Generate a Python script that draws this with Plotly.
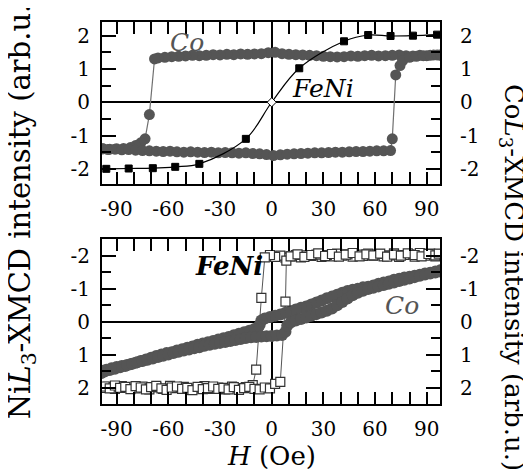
import plotly.graph_objects as go

# ---------------- data ----------------
# Top panel: Co L3 XMCD loop (gray circles), loop order
co_top_H = [98, 94, 90, 86, 82, 78, 74, 70, 66, 62, 58, 54, 50, 46, 42, 38, 34, 30, 26, 22, 18, 14, 10, 6, 2,
            -2, -6, -10, -14, -18, -22, -26, -30, -34, -38, -42, -46, -50, -54, -58, -62, -66,
            -68, -71, -73.5, -76, -79, -82, -86, -90, -94, -98,
            -98, -95, -91, -87, -83, -79, -75, -71, -67, -63, -59, -55, -51, -47, -43, -39, -35, -31, -27, -23,
            -19, -15, -11, -7, -3, 1, 5, 9, 13, 17, 21, 25, 29, 33, 37, 41, 45, 49, 53, 57, 61, 65, 69,
            70, 72, 74.5, 76, 80, 84, 88, 92, 96, 98]
co_top_M = [1.41, 1.42, 1.40, 1.41, 1.39, 1.40, 1.42, 1.41, 1.40, 1.39, 1.41, 1.40, 1.38, 1.39, 1.37, 1.36, 1.37,
            1.38, 1.40, 1.41, 1.42, 1.43, 1.44, 1.46, 1.50,
            1.49, 1.46, 1.45, 1.44, 1.45, 1.43, 1.44, 1.42, 1.43, 1.41, 1.40, 1.41, 1.39, 1.38, 1.37, 1.35, 1.33,
            1.30, -0.37, -1.10, -1.22, -1.30, -1.36, -1.39, -1.40, -1.41, -1.40,
            -1.40, -1.42, -1.41, -1.43, -1.42, -1.44, -1.45, -1.46, -1.47, -1.48, -1.47, -1.49, -1.50, -1.49, -1.50,
            -1.51, -1.50, -1.52, -1.51, -1.52,
            -1.53, -1.52, -1.54, -1.55, -1.57, -1.60, -1.58, -1.56, -1.55, -1.54, -1.53, -1.52, -1.52, -1.51, -1.50,
            -1.50, -1.49, -1.48, -1.48, -1.47, -1.46, -1.46, -1.45,
            -1.10, 0.82, 1.10, 1.25, 1.35, 1.38, 1.40, 1.41, 1.42, 1.42]

# Top panel: FeNi (Ni L3) curve
fe_top_H = [-96, -83, -69, -56, -42, -15, 0, 16, 42, 56, 69, 82, 96]
fe_top_M = [-2.00, -1.99, -1.98, -1.94, -1.85, -1.10, 0.0, 1.02, 1.83, 2.02, 1.99, 2.00, 2.03]

# Bottom panel: FeNi (Ni L3) square loop (open squares), loop order
fe_bot_H = [98, 95, 92, 89, 86, 83, 80, 77, 74, 71, 68, 65, 62, 59, 56, 53, 50, 47, 44, 41, 38, 35, 32, 29, 26,
            23, 20, 17, 14, 11, 8, 5, 2, -1, -4,
            -6, -9,
            -11, -15, -19, -23, -27, -31, -35, -39, -43, -47, -51, -55, -59, -63, -67, -71, -75, -79, -83, -87,
            -91, -95, -98,
            -97, -94, -91, -88, -85, -82, -79, -76, -73, -70, -67, -64, -61, -58, -55, -52, -49, -46, -43, -40,
            -37, -34, -31, -28, -25, -22, -19, -16, -13, -10, -7, -4, -1, 2,
            5, 8, 8.5,
            11, 15, 19, 23, 27, 31, 35, 39, 43, 47, 51, 55, 59, 63, 67, 71, 75, 79, 83, 87, 91, 95, 97]
fe_bot_M = [-2.05, -1.98, -2.06, -2.00, -2.08, -1.97, -2.04, -2.02, -1.96, -2.07, -2.01, -1.98, -2.05, -2.00,
            -2.06, -1.99, -2.03, -1.97, -2.04, -2.00, -2.06, -1.98, -2.02, -1.96, -2.03,
            -1.99, -2.01, -1.95, -2.02, -1.98, -1.94, -2.00, -1.96, -2.02, -1.95,
            -0.72, 1.45,
            1.92, 1.98, 2.04, 1.96, 2.05, 1.99, 2.03, 1.95, 2.02, 2.06, 1.97, 2.01, 1.94, 2.03, 1.98, 2.05, 1.96,
            2.02, 1.99, 1.95, 2.03, 1.97, 2.00,
            1.96, 2.02, 1.93, 2.00, 1.97, 2.04, 1.95, 1.99, 2.05, 1.98, 1.94, 2.02, 2.06, 1.99, 1.96, 2.03, 2.00,
            2.07, 1.97, 2.04, 2.01, 1.96, 2.03, 2.00, 2.05, 1.98, 2.06, 2.01, 1.97, 2.03, 2.05, 1.99, 2.02, 1.88,
            1.82, -0.61, -1.85,
            -1.98, -2.04, -1.96, -2.02, -2.07, -1.99, -2.05, -1.97, -2.03, -2.08, -1.98, -2.04, -2.01, -2.06,
            -1.97, -2.03, -2.00, -2.07, -2.02, -1.98, -2.05, -2.01, -2.06]

# Bottom panel: Co L3 loop (gray circles), descending then ascending field
co_bot_H = [98, 95, 92, 89, 86, 83, 80, 77, 74, 71, 68, 65, 62, 59, 56, 53, 50, 47, 44, 41, 38, 35, 32, 29, 26,
            23, 20, 17, 14, 11, 8, 5, 2, -1, -4, -6, -7, -8, -10, -13, -16, -19, -22, -25, -28, -31, -34, -37,
            -40, -43, -46, -49, -52, -55, -58, -61, -64, -67, -70, -73, -76, -79, -82, -85, -88, -91, -94, -97,
            -99,
            -99, -96, -93, -90, -87, -84, -81, -78, -75, -72, -69, -66, -63, -60, -57, -54, -51, -48, -45, -42,
            -39, -36, -33, -30, -27, -24, -21, -18, -15, -12, -9, -6, -3, 0, 3, 6, 8, 9, 11, 14, 17, 20, 23, 26,
            29, 32, 35, 38, 41, 44, 47, 50, 53, 56, 59, 62, 65, 68, 71, 74, 77, 80, 83, 86, 89, 92, 95, 98]
co_bot_M = [-1.56, -1.52, -1.48, -1.46, -1.42, -1.39, -1.36, -1.34, -1.30, -1.27, -1.22, -1.19, -1.15, -1.10,
            -1.06, -1.04, -1.00, -0.97, -0.93, -0.88, -0.82, -0.76, -0.71, -0.64, -0.58,
            -0.52, -0.46, -0.42, -0.37, -0.32, -0.27, -0.22, -0.18, -0.14, -0.10, -0.04, 0.10, 0.18, 0.22, 0.27,
            0.32, 0.36, 0.41, 0.46, 0.50, 0.54, 0.58, 0.62,
            0.66, 0.70, 0.75, 0.79, 0.83, 0.87, 0.92, 0.95, 0.99, 1.04, 1.09, 1.14, 1.19, 1.24, 1.29, 1.34,
            1.38, 1.42, 1.46, 1.51, 1.55,
            1.48, 1.45, 1.41, 1.37, 1.34, 1.31, 1.27, 1.23, 1.19, 1.15, 1.11, 1.07, 1.03, 0.99, 0.95, 0.91, 0.87,
            0.84, 0.80, 0.77,
            0.73, 0.70, 0.67, 0.64, 0.61, 0.58, 0.55, 0.52, 0.49, 0.47, 0.46, 0.45, 0.44, 0.43, 0.42, 0.40, 0.30,
            0.12, 0.02, -0.04, -0.08, -0.13, -0.18, -0.23,
            -0.28, -0.33, -0.40, -0.50, -0.60, -0.70, -0.80, -0.88, -0.94, -0.99, -1.03, -1.07, -1.11, -1.15,
            -1.19, -1.23, -1.27, -1.31, -1.35, -1.39, -1.43, -1.46, -1.49, -1.52]

x_ticks = [-90, -60, -30, 0, 30, 60, 90]
x_tick_text = ["-90", "-60", "-30", "0", "30", "60", "90"]
y_ticks = [-2, -1, 0, 1, 2]
y_tick_text = ["-2", "-1", "0", "1", "2"]

# ---------------- styling ----------------
FONT = "DejaVu Serif"
GRAY = "#555555"
X_RANGE = [-98.5, 97.7]
Y_TOP_RANGE = [-2.46, 2.41]
Y_BOT_RANGE = [2.49, -2.5]

fig = go.Figure()

fig.add_trace(go.Scatter(x=co_top_H, y=co_top_M, mode="lines+markers", xaxis="x", yaxis="y",
                         line=dict(color="#707070", width=1.2),
                         marker=dict(symbol="circle", size=11, color=GRAY, line=dict(width=0)),
                         showlegend=False))
fe_symbols = ["square"] * len(fe_top_H)
fe_colors = ["black"] * len(fe_top_H)
for i, h in enumerate(fe_top_H):
    if h == 0:
        fe_symbols[i] = "diamond"
        fe_colors[i] = "white"
fig.add_trace(go.Scatter(x=fe_top_H, y=fe_top_M, mode="lines+markers", xaxis="x", yaxis="y",
                         line=dict(color="black", width=1.2, shape="spline", smoothing=1.0),
                         marker=dict(symbol=fe_symbols, size=7, color=fe_colors,
                                     line=dict(color="black", width=1)),
                         showlegend=False))

fig.add_trace(go.Scatter(x=co_bot_H, y=co_bot_M, mode="lines+markers", xaxis="x2", yaxis="y2",
                         line=dict(color="#707070", width=1.2),
                         marker=dict(symbol="circle", size=12, color=GRAY, line=dict(width=0)),
                         showlegend=False))
fig.add_trace(go.Scatter(x=fe_bot_H, y=fe_bot_M, mode="lines+markers", xaxis="x2", yaxis="y2",
                         line=dict(color="#555555", width=1),
                         marker=dict(symbol="square", size=9, color="white",
                                     line=dict(color="#333333", width=1.2)),
                         showlegend=False))

axis_common = dict(showline=True, linecolor="black", linewidth=2, mirror="allticks",
                   showgrid=False, zeroline=True, zerolinecolor="black", zerolinewidth=2,
                   ticks="inside", tickcolor="black",
                   tickfont=dict(family=FONT, size=20, color="black"))

xa = dict(axis_common, range=X_RANGE, tickvals=x_ticks, ticktext=x_tick_text, ticklen=12, tickwidth=1.5,
          minor=dict(dtick=10, tick0=0, ticks="inside", ticklen=5, tickcolor="black", tickwidth=1.5),
          ticklabelstandoff=6)
ya = dict(axis_common, tickvals=y_ticks, ticktext=y_tick_text, ticklen=14, tickwidth=1.5,
          minor=dict(dtick=0.5, tick0=0, ticks="inside", ticklen=9, tickcolor="black", tickwidth=1.5),
          ticklabelstandoff=6)
ya_right = dict(side="right", showline=False, showgrid=False, zeroline=False, ticks="",
                tickvals=y_ticks, ticktext=y_tick_text,
                tickfont=dict(family=FONT, size=20, color="black"), ticklabelstandoff=19)

TOP_DOM = [0.5755, 1.0]
BOT_DOM = [0.0, 0.4316]

# the page body adds an 8 px offset, so the figure is 8 px smaller than the window
fig.update_layout(
    width=523, height=462,
    margin=dict(l=94, r=91, t=14, b=66),
    paper_bgcolor="white", plot_bgcolor="white",
    xaxis=dict(xa, anchor="y", domain=[0, 1]),
    yaxis=dict(ya, anchor="x", domain=TOP_DOM, range=Y_TOP_RANGE),
    xaxis2=dict(xa, anchor="y2", domain=[0, 1]),
    yaxis2=dict(ya, anchor="x2", domain=BOT_DOM, range=Y_BOT_RANGE),
    yaxis3=dict(ya_right, overlaying="y", anchor="x", range=Y_TOP_RANGE),
    yaxis4=dict(ya_right, overlaying="y2", anchor="x2", range=Y_BOT_RANGE),
)

# invisible traces so the right-hand label axes are drawn
fig.add_trace(go.Scatter(x=[0], y=[0], xaxis="x", yaxis="y3", mode="markers",
                         marker=dict(opacity=0), showlegend=False, hoverinfo="skip"))
fig.add_trace(go.Scatter(x=[0], y=[0], xaxis="x2", yaxis="y4", mode="markers",
                         marker=dict(opacity=0), showlegend=False, hoverinfo="skip"))

ann = [
    dict(x=-49, y=1.80, xref="x", yref="y", text="<i>Co</i>", showarrow=False,
         font=dict(family=FONT, size=25, color=GRAY)),
    dict(x=30, y=0.41, xref="x", yref="y", text="<i>FeNi</i>", showarrow=False,
         font=dict(family=FONT, size=25, color="black")),
    dict(x=-25, y=-1.7, xref="x2", yref="y2", text="<b><i>FeNi</i></b>", showarrow=False,
         font=dict(family=FONT, size=26, color="black")),
    dict(x=75.5, y=-0.5, xref="x2", yref="y2", text="<i>Co</i>", showarrow=False,
         font=dict(family=FONT, size=25, color=GRAY)),
    dict(x=0.5, y=-0.135, xref="paper", yref="paper", text="<i>H</i> (Oe)", showarrow=False,
         xanchor="center", yanchor="middle", font=dict(family=FONT, size=26, color="black")),
    dict(x=-0.237, y=0.52, xref="paper", yref="paper", textangle=-90,
         text="Ni<i>L</i><sub>3</sub>-XMCD intensity (arb.u.)", showarrow=False,
         xanchor="center", yanchor="middle", font=dict(family=FONT, size=29, color="black")),
    dict(x=1.213, y=0.33, xref="paper", yref="paper", textangle=90,
         text="Co<i>L</i><sub>3</sub>-XMCD intensity (arb.u.)", showarrow=False,
         xanchor="center", yanchor="middle", font=dict(family=FONT, size=26, color="black")),
]
fig.update_layout(annotations=ann)

fig.write_html("out.html")
